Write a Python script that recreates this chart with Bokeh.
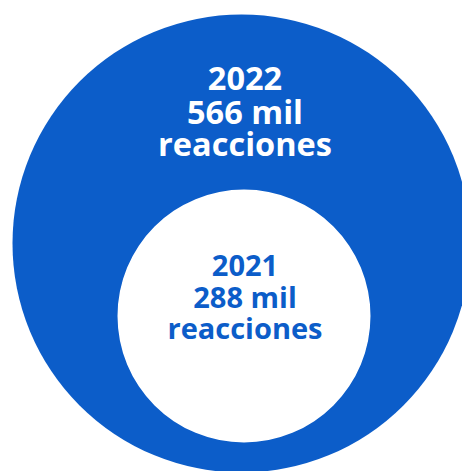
from bokeh.plotting import figure
from bokeh.models import Range1d, ColumnDataSource
from bokeh.core.properties import value
from bokeh.embed import file_html
from bokeh.resources import INLINE

years = ["2022", "2021"]
reactions_mil = [566, 288]
unit_label = "mil"
noun_label = "reacciones"

BLUE = "#0C5DC9"
W, H = 462, 471

p = figure(width=W, height=H, output_backend="svg", toolbar_location=None,
           x_range=Range1d(0, W), y_range=Range1d(H, 0),
           min_border=0, outline_line_color=None, background_fill_color="white",
           border_fill_color="white")
p.axis.visible = False
p.grid.visible = False

# geometry (screen pixel coords)
cx = [241, 243.5]
cy = [243, 315.5]
radius = [229, 126.5]
fills = [BLUE, "white"]

circles = ColumnDataSource(dict(x=cx, y=cy, r=radius, c=fills, year=years, v=reactions_mil))
p.circle(x="x", y="y", radius="r", fill_color="c", line_color=None, source=circles)

# text blocks
text_cfg = [
    dict(x=244.5, baselines=[78, 110.5, 142.5], size="32.5px", color="white"),
    dict(x=244.5, baselines=[264.5, 295.5, 326.5], size="29px", color=BLUE),
]
for yr, v, cfg in zip(years, reactions_mil, text_cfg):
    lines = [yr, f"{v} {unit_label}", noun_label]
    src = ColumnDataSource(dict(x=[cfg["x"]] * 3, y=cfg["baselines"], t=lines))
    p.text(x="x", y="y", text="t", source=src, text_align="center",
           text_baseline="alphabetic", text_font=value("Open Sans"),
           text_font_style="bold", text_font_size=cfg["size"],
           text_color=cfg["color"])

open("out.html", "w").write(file_html(p, INLINE))
